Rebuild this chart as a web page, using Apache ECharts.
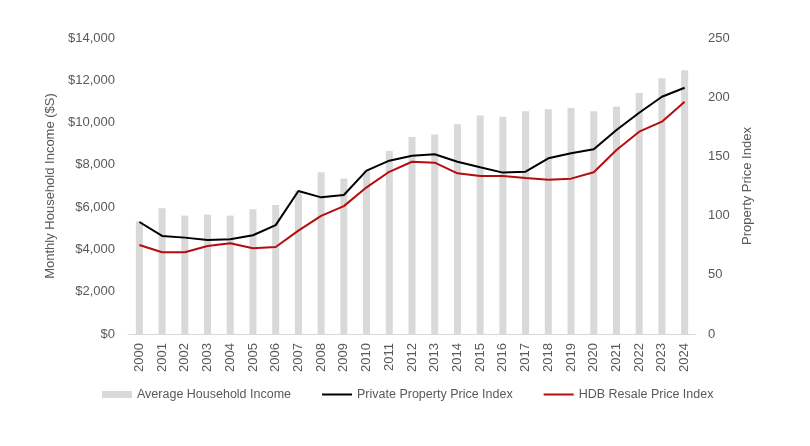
<!DOCTYPE html>
<html>
<head>
<meta charset="utf-8">
<script src="https://cdn.jsdelivr.net/npm/echarts@6/dist/echarts.min.js"></script>
<style>
  html, body { margin: 0; padding: 0; background: #fff; }
  #main { width: 810px; height: 446px; }
</style>
</head>
<body>
<div id="main"></div>
<script>
// Years on the x axis
const years = [
  "2000", "2001", "2002", "2003", "2004", "2005", "2006", "2007", "2008",
  "2009", "2010", "2011", "2012", "2013", "2014", "2015", "2016", "2017",
  "2018", "2019", "2020", "2021", "2022", "2023", "2024",
];

// Average monthly household income ($S)
const householdIncome = [
  5330, 5950, 5600, 5650, 5600, 5900, 6100, 6780, 7650, 7350,
  7750, 8650, 9320, 9440, 9920, 10330, 10280, 10540, 10630, 10690,
  10540, 10760, 11400, 12100, 12480,
];

// Private property price index (right axis)
const privateIndex = [
  94.6, 82.8, 81.4, 79.4, 80.0, 83.4, 92.0, 120.8, 115.4, 117.4,
  138.0, 146.4, 150.6, 151.8, 145.5, 140.8, 136.3, 137.1, 148.4, 152.6,
  156.0, 172.3, 186.9, 200.4, 208.0,
];

// HDB resale price index (right axis)
const hdbIndex = [
  75.2, 69.0, 69.0, 74.3, 76.6, 72.4, 73.5, 87.3, 99.7, 108.0,
  123.9, 137.0, 145.5, 144.7, 135.7, 133.4, 133.4, 131.8, 130.3, 131.2,
  136.6, 155.4, 170.9, 179.3, 196.2,
];

const font = "Liberation Sans";
const textColor = "#595959";

const chart = echarts.init(document.getElementById("main"));
chart.setOption({
  animation: false,
  textStyle: { fontFamily: font, color: textColor },
  grid: {
    top: 38,
    left: 128,
    right: 114,
    bottom: 112,
  },
  legend: {
    top: 388,
    left: 102,
    padding: 0,
    itemGap: 30,
    itemWidth: 30,
    itemHeight: 7,
    textStyle: { fontFamily: font, fontSize: 12.5, color: textColor },
    data: [
      { name: "Average Household Income", icon: "rect" },
      { name: "Private Property Price Index", itemStyle: { opacity: 0 } },
      { name: "HDB Resale Price Index", itemStyle: { opacity: 0 } },
    ],
  },
  xAxis: {
    type: "category",
    data: years,
    axisLine: { show: true, lineStyle: { color: "#d9d9d9", width: 1 } },
    axisTick: { show: false },
    axisLabel: {
      rotate: 90,
      margin: 9,
      fontSize: 13,
      color: textColor,
      fontFamily: font,
    },
  },
  yAxis: [
    {
      type: "value",
      min: 0,
      max: 14000,
      interval: 2000,
      name: "Monthly Household Income ($S)",
      nameLocation: "middle",
      nameGap: 61,
      nameTextStyle: { fontSize: 13, color: textColor, fontFamily: font },
      axisLine: { show: false },
      axisTick: { show: false },
      splitLine: { show: false },
      axisLabel: {
        margin: 13,
        fontSize: 13,
        color: textColor,
        fontFamily: font,
        formatter: (v) => "$" + v.toLocaleString("en-US"),
      },
    },
    {
      type: "value",
      min: 0,
      max: 250,
      interval: 50,
      name: "Property Price Index",
      nameLocation: "middle",
      nameGap: 37,
      nameTextStyle: { fontSize: 13, color: textColor, fontFamily: font },
      axisLine: { show: false },
      axisTick: { show: false },
      splitLine: { show: false },
      axisLabel: {
        margin: 12,
        fontSize: 13,
        color: textColor,
        fontFamily: font,
      },
    },
  ],
  series: [
    {
      name: "Average Household Income",
      type: "bar",
      yAxisIndex: 0,
      data: householdIncome,
      barWidth: 7,
      itemStyle: { color: "#d9d9d9" },
    },
    {
      name: "Private Property Price Index",
      type: "line",
      yAxisIndex: 1,
      data: privateIndex,
      symbol: "none",
      lineStyle: { color: "#000000", width: 2 },
      itemStyle: { color: "#000000" },
    },
    {
      name: "HDB Resale Price Index",
      type: "line",
      yAxisIndex: 1,
      data: hdbIndex,
      symbol: "none",
      lineStyle: { color: "#b50d0d", width: 2 },
      itemStyle: { color: "#b50d0d" },
    },
  ],
});
</script>
</body>
</html>
